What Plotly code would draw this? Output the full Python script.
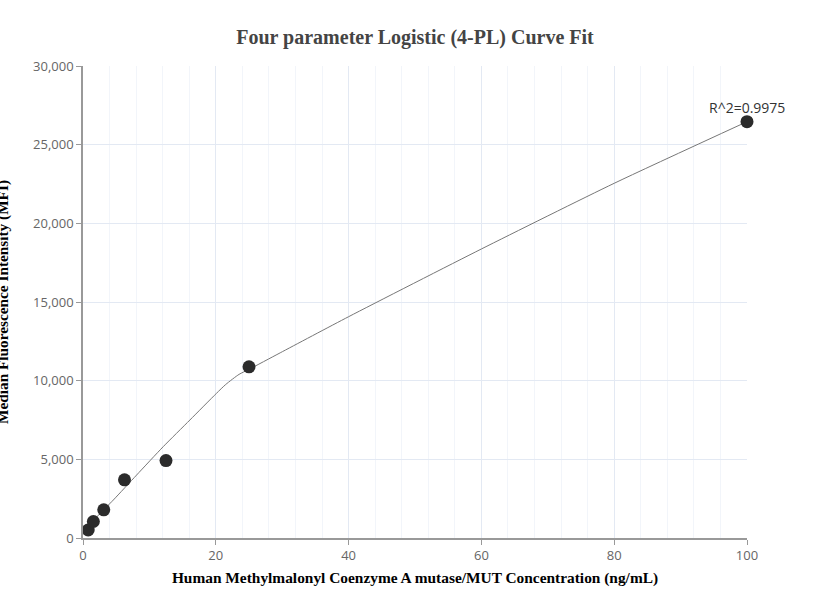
import plotly.graph_objects as go

# Measured standards
conc = [0.78, 1.56, 3.125, 6.25, 12.5, 25, 100]
mfi = [510, 1050, 1790, 3700, 4920, 10880, 26460]

# Fitted curve
curve_x = [0.78, 2, 4.57, 8.07, 12.08, 16.1, 20.1, 21.5, 23.5, 25, 29.7, 40, 60, 80, 100]
curve_y = [560, 1300, 2415, 4000, 5805, 7500, 9195, 9760, 10400, 10720, 11770, 14065, 18370, 22545, 26460]

r2_label = "R^2=0.9975"
title = "Four parameter Logistic (4-PL) Curve Fit"
x_title = "Human Methylmalonyl Coenzyme A mutase/MUT Concentration (ng/mL)"
y_title = "Median Fluorescence Intensity (MFI)"

fig = go.Figure()
fig.add_trace(go.Scatter(x=curve_x, y=curve_y, mode="lines",
                         line=dict(color="#777777", width=1, shape="spline", smoothing=0.6),
                         hoverinfo="skip", showlegend=False))
fig.add_trace(go.Scatter(x=conc, y=mfi, mode="markers", cliponaxis=False,
                         marker=dict(color="#2b2b2b", size=13),
                         showlegend=False))

fig.add_annotation(x=conc[-1], y=mfi[-1], text=r2_label, showarrow=False,
                   yshift=14, font=dict(family="Open Sans", size=14, color="#333333"))
fig.add_annotation(xref="paper", yref="paper", x=-0.1205, y=0.5, text="<b>" + y_title + "</b>",
                   textangle=-90, showarrow=False, xanchor="center", yanchor="middle",
                   font=dict(family="Liberation Serif", size=15.3, color="#000000"))

fig.update_layout(
    width=830, height=616,
    margin=dict(l=83, r=83, t=66, b=78),
    paper_bgcolor="white", plot_bgcolor="white",
    title=dict(text="<b>" + title + "</b>", x=0.5, xanchor="center", y=1 - 37 / 616, yanchor="middle",
               font=dict(family="Liberation Serif", size=20, color="#444444")),
    font=dict(family="Open Sans", size=13, color="#666666"),
)
fig.update_xaxes(range=[0, 100], dtick=20, showline=True, linecolor="#999999", linewidth=1.5,
                 ticks="outside", ticklen=5, tickcolor="#999999",
                 showgrid=True, gridcolor="#e3e9f3", gridwidth=1, zeroline=False,
                 minor=dict(dtick=4, showgrid=True, gridcolor="#f2f5fa", gridwidth=1),
                 title=dict(text="<b>" + x_title + "</b>", standoff=9,
                            font=dict(family="Liberation Serif", size=15.4, color="#000000")),
                 tickfont=dict(size=13, color="#666666"))
fig.update_yaxes(range=[0, 30000], dtick=5000, tickformat=",d", showline=True,
                 linecolor="#999999", linewidth=1.5, ticks="outside", ticklen=5, tickcolor="#999999",
                 showgrid=True, gridcolor="#e3e9f3", gridwidth=1, zeroline=False,
                 tickfont=dict(size=13, color="#666666"))

fig.write_html("out.html", config={"displayModeBar": False},
               post_script="document.body.style.margin='0px';")
